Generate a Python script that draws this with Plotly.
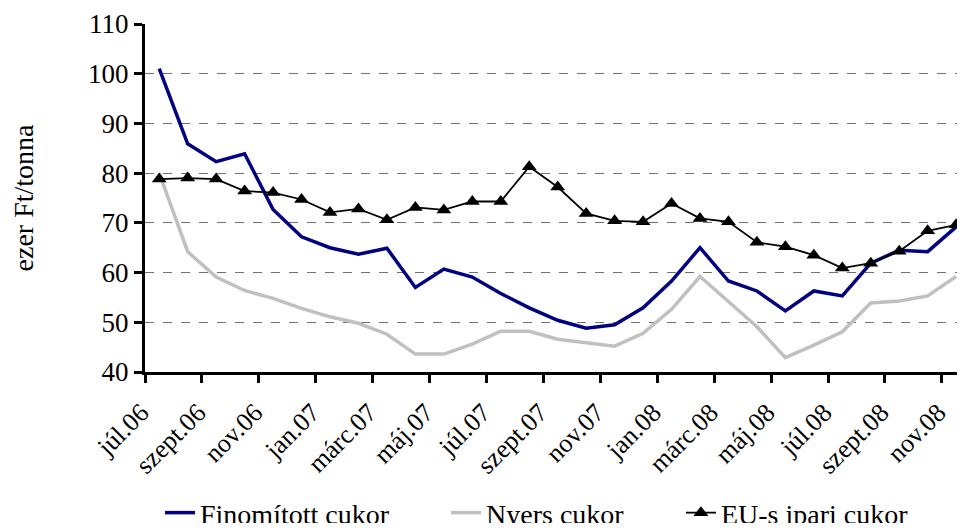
import plotly.graph_objects as go

months = ["júl.06", "aug.06", "szept.06", "okt.06", "nov.06", "dec.06",
          "jan.07", "febr.07", "márc.07", "ápr.07", "máj.07", "jún.07",
          "júl.07", "aug.07", "szept.07", "okt.07", "nov.07", "dec.07",
          "jan.08", "febr.08", "márc.08", "ápr.08", "máj.08", "jún.08",
          "júl.08", "aug.08", "szept.08", "okt.08", "nov.08"]

finomitott = [101.0, 85.9, 82.3, 83.9, 72.7, 67.2, 65.0, 63.7, 64.9, 57.0,
              60.7, 59.1, 55.8, 52.9, 50.4, 48.8, 49.5, 52.9, 58.3, 65.0,
              58.3, 56.3, 52.3, 56.3, 55.3, 61.9, 64.5, 64.2, 69.2]

nyers = [80.0, 64.2, 59.1, 56.4, 54.8, 52.8, 51.1, 49.8, 47.6, 43.6,
         43.6, 45.6, 48.2, 48.2, 46.6, 45.9, 45.2, 47.8, 52.6, 59.2,
         54.2, 49.1, 42.9, 45.4, 48.1, 53.9, 54.3, 55.3, 59.2]

eu_ipari = [78.8, 79.0, 78.8, 76.4, 76.1, 74.7, 72.1, 72.8, 70.6, 73.1,
            72.6, 74.3, 74.3, 81.3, 77.2, 71.9, 70.4, 70.2, 73.9, 70.9,
            70.2, 66.1, 65.2, 63.5, 60.9, 61.9, 64.3, 68.4, 69.6]

y_ticks = [40, 50, 60, 70, 80, 90, 100, 110]

x = list(range(len(months)))
label_idx = list(range(0, len(months), 2))
label_text = [months[i] for i in label_idx]
minor_ticks = [i - 0.5 for i in label_idx]

font_family = "Liberation Serif, Times New Roman, serif"
FS_TICK = 27
FS_XTICK = 26
FS_TEXT = 28

fig = go.Figure()
fig.add_trace(go.Scatter(x=x, y=finomitott, mode="lines", name="Finomított cukor",
                         line=dict(color="#000080", width=3.5), legend="legend"))
fig.add_trace(go.Scatter(x=x, y=nyers, mode="lines", name="Nyers cukor",
                         line=dict(color="#C0C0C0", width=3.5), legend="legend2"))
fig.add_trace(go.Scatter(x=x, y=eu_ipari, mode="lines+markers", name="EU-s ipari cukor",
                         line=dict(color="black", width=1.8),
                         marker=dict(symbol="triangle-up", size=13, color="black"),
                         legend="legend3"))

leg_common = dict(y=-0.405, yanchor="middle", xanchor="left",
                  font=dict(size=FS_TEXT), bgcolor="rgba(0,0,0,0)")

fig.update_layout(
    width=949, height=515,
    margin=dict(l=137, r=0, t=16, b=151, autoexpand=False),
    plot_bgcolor="white", paper_bgcolor="white",
    font=dict(family=font_family, size=FS_TICK, color="black"),
    showlegend=True,
    legend=dict(x=0.0185, **leg_common),
    legend2=dict(x=0.3707, **leg_common),
    legend3=dict(x=0.660, **leg_common),
)

fig.update_xaxes(
    range=[-0.5, 28.03],
    tickmode="array", tickvals=label_idx, ticktext=label_text,
    ticks="", tickangle=-45,
    ticklabelshift=-18, ticklabelstandoff=12,
    showline=True, linecolor="black", linewidth=3,
    showgrid=False, zeroline=False,
    minor=dict(tickmode="array", tickvals=minor_ticks, ticks="outside",
               ticklen=8, tickwidth=2.5, tickcolor="black", showgrid=False),
    tickfont=dict(size=FS_XTICK),
)

fig.update_yaxes(
    range=[40, 110],
    tickmode="array", tickvals=y_ticks,
    ticks="outside", ticklen=8, tickwidth=2.5, tickcolor="black",
    showline=True, linecolor="black", linewidth=3,
    showgrid=True, gridcolor="#707070", gridwidth=1, griddash="dash",
    zeroline=False,
    title=dict(text="ezer Ft/tonna", standoff=48, font=dict(size=FS_TEXT)),
    tickfont=dict(size=FS_TICK),
)

fig.write_html("out.html")
